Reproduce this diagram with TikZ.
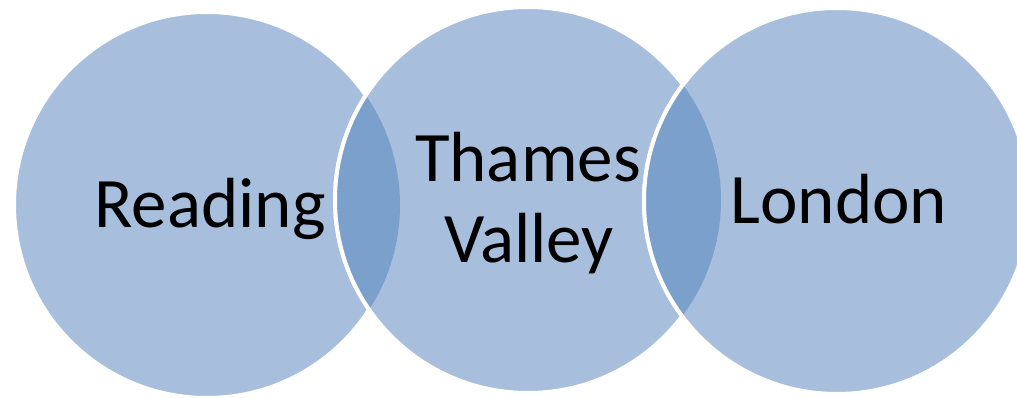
\documentclass[tikz,border=0pt]{standalone}
\usepackage{fontspec}
\setmainfont{Carlito}
\definecolor{lightblue}{HTML}{A7BFDD}
\definecolor{darkblue}{HTML}{7BA0CC}
\begin{document}
\begin{tikzpicture}[x=1pt,y=-1pt,
  venn/.style={fill=lightblue,draw=white,line width=4pt},
  lbl/.style={font=\fontsize{71}{84}\selectfont,text=black,inner sep=0pt,align=center}]
\useasboundingbox (0,0) rectangle (1017,398);
\begin{scope}
\clip (0,0) rectangle (1017,398);
\coordinate (c1) at (207,205);
\coordinate (c2) at (528,200);
\coordinate (c3) at (837,201);
\path[venn] (c1) circle[radius=193];
\path[venn] (c2) circle[radius=193];
\path[venn] (c3) circle[radius=193];
\begin{scope}
\clip (c1) circle[radius=193];
\path[fill=darkblue] (c2) circle[radius=193];
\path[draw=white,line width=4pt] (c2) circle[radius=193];
\end{scope}
\begin{scope}
\clip (c2) circle[radius=193];
\path[fill=darkblue] (c3) circle[radius=193];
\path[draw=white,line width=4pt] (c3) circle[radius=193];
\end{scope}
\end{scope}
\node[lbl,anchor=base] (r) at (210,227) {Reading};
\node[lbl,anchor=base] (t) at (528,182) {Thames};
\node[lbl,anchor=base] (v) at (529,262) {Valley};
\node[lbl,anchor=base] (l) at (839,224) {London};
\end{tikzpicture}
\end{document}
